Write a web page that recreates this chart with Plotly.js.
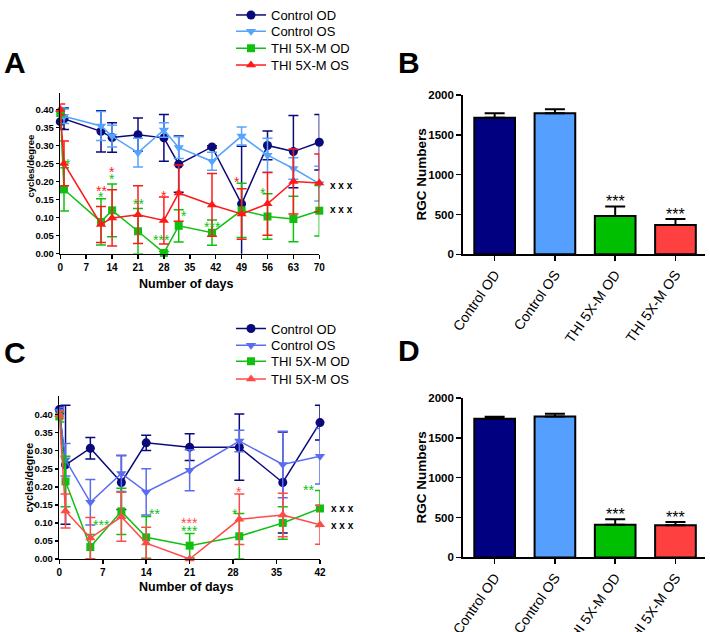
<!DOCTYPE html>
<html><head><meta charset="utf-8">
<script src="https://cdn.plot.ly/plotly-3.0.1.min.js"></script>
<style>html,body{margin:0;padding:0;background:#fff}#chart{width:710px;height:632px}</style>
</head><body><div id="chart"></div>
<script>
// ---------- Panel A data (visual acuity over 70 days) ----------
const daysA = [0, 1, 11, 14, 21, 28, 32, 41, 49, 56, 63, 70];
const ctrlOD_A = [0.366, 0.374, 0.339, 0.322, 0.330, 0.321, 0.248, 0.296, 0.138, 0.300, 0.283, 0.309];
const ctrlOD_A_err = [0.020, 0.030, 0.057, 0.041, 0.046, 0.065, 0.078, 0.003, 0.160, 0.040, 0.100, 0.077];
const ctrlOS_A = [0.390, 0.381, 0.354, 0.326, 0.280, 0.343, 0.294, 0.256, 0.326, 0.273, 0.236, 0.194];
const ctrlOS_A_err = [0.015, 0.020, 0.040, 0.030, 0.040, 0.020, 0.030, 0.025, 0.025, 0.047, 0.030, 0.048];
const thiOD_A = [0.390, 0.178, 0.088, 0.120, 0.062, 0.002, 0.077, 0.058, 0.120, 0.103, 0.096, 0.119];
const thiOD_A_err = [0.010, 0.060, 0.064, 0.073, 0.063, 0.004, 0.045, 0.035, 0.075, 0.063, 0.063, 0.070];
const thiOS_A = [0.400, 0.250, 0.081, 0.099, 0.108, 0.092, 0.168, 0.135, 0.110, 0.138, 0.200, 0.196];
const thiOS_A_err = [0.015, 0.062, 0.050, 0.078, 0.080, 0.065, 0.078, 0.087, 0.070, 0.087, 0.090, 0.080];

// ---------- Panel C data (visual acuity over 42 days) ----------
const daysC = [0, 1, 5, 10, 14, 21, 29, 36, 42];
const ctrlOD_C = [0.414, 0.261, 0.307, 0.212, 0.322, 0.310, 0.310, 0.212, 0.378];
const ctrlOD_C_err = [0.010, 0.165, 0.030, 0.075, 0.021, 0.037, 0.092, 0.140, 0.048];
const ctrlOS_C = [0.410, 0.275, 0.157, 0.237, 0.186, 0.246, 0.327, 0.262, 0.285];
const ctrlOS_C_err = [0.010, 0.045, 0.063, 0.050, 0.064, 0.057, 0.030, 0.092, 0.077];
const thiOD_C = [0.395, 0.215, 0.033, 0.132, 0.060, 0.037, 0.063, 0.100, 0.140];
const thiOD_C_err = [0.015, 0.070, 0.035, 0.064, 0.058, 0.034, 0.063, 0.045, 0.050];
const thiOS_C = [0.400, 0.133, 0.058, 0.117, 0.044, 0.000, 0.110, 0.122, 0.095];
const thiOS_C_err = [0.010, 0.047, 0.057, 0.068, 0.044, 0.000, 0.070, 0.060, 0.054];

// ---------- Panels B and D (RGC numbers) ----------
const groups = ["Control OD", "Control OS", "THI 5X-M OD", "THI 5X-M OS"];
const rgcB = [1715, 1772, 481, 369];
const rgcB_err = [57, 50, 121, 75];
const rgcD = [1739, 1768, 410, 402];
const rgcD_err = [25, 33, 70, 41];

// ---------- Significance marks ----------
const sigA_day = [2, 11, 11, 14, 14, 21, 28, 27.4, 33.4, 41, 47.8, 54.9];
const sigA_val = [0.26, 0.186, 0.167, 0.237, 0.217, 0.148, 0.172, 0.050, 0.115, 0.085, 0.21, 0.18];
const sigA_txt = ["*", "**", "*", "*", "*", "**", "*", "***", "*", "***", "*", "*"];
const sigA_grp = ["g", "r", "g", "r", "g", "g", "r", "g", "g", "g", "r", "g"];
const sigC_day = [6.8, 15.3, 21.05, 21.05, 28.95, 28.3, 40.1];
const sigC_val = [0.105, 0.135, 0.11, 0.09, 0.197, 0.137, 0.201];
const sigC_txt = ["***", "**", "***", "***", "*", "*", "**"];
const sigC_grp = ["g", "g", "r", "g", "r", "g", "g"];
const xxxA_val = [0.189, 0.122];
const xxxC_val = [0.140, 0.094];

// ---------- styles ----------
const NAVY = '#0a0a7a', SKY = '#55a2ff', PERI = '#5b6cf0', GREEN = '#10c010', RED = '#ff1a1a', RED2 = '#ff4a4a';
const BAR_COLORS = ['#000080', '#559fff', '#00bf00', '#ff4040'];
const FONT = 'Liberation Sans, Arial, sans-serif';

function lineTrace(name, x, y, err, color, symbol, size, xa, ya, legend) {
  return {
    type: 'scatter', mode: 'lines+markers', name: name, x: x, y: y,
    xaxis: xa, yaxis: ya, legend: legend, showlegend: true, cliponaxis: false,
    line: { color: color, width: 1.5 },
    marker: { color: color, symbol: symbol, size: size },
    error_y: { type: 'data', array: err, visible: true, color: color, thickness: 1.5, width: 5 }
  };
}
function barTrace(vals, errs, xa, ya) {
  return {
    type: 'bar', x: groups, y: vals, xaxis: xa, yaxis: ya, showlegend: false, width: 0.675,
    marker: { color: BAR_COLORS, line: { color: '#000', width: 2 } },
    error_y: { type: 'data', symmetric: false, array: errs, arrayminus: errs.map(() => 0), color: '#000', thickness: 2, width: 10 }
  };
}

const traces = [
  lineTrace('Control OD', daysA, ctrlOD_A, ctrlOD_A_err, NAVY, 'circle', 9, 'x', 'y', 'legend'),
  lineTrace('Control OS', daysA, ctrlOS_A, ctrlOS_A_err, SKY, 'triangle-down', 9, 'x', 'y', 'legend2'),
  lineTrace('THI 5X-M OD', daysA, thiOD_A, thiOD_A_err, GREEN, 'square', 8, 'x', 'y', 'legend3'),
  lineTrace('THI 5X-M OS', daysA, thiOS_A, thiOS_A_err, RED, 'triangle-up', 9, 'x', 'y', 'legend4'),
  barTrace(rgcB, rgcB_err, 'x2', 'y2'),
  lineTrace('Control OD', daysC, ctrlOD_C, ctrlOD_C_err, NAVY, 'circle', 9, 'x3', 'y3', 'legend5'),
  lineTrace('Control OS', daysC, ctrlOS_C, ctrlOS_C_err, PERI, 'triangle-down', 9, 'x3', 'y3', 'legend6'),
  lineTrace('THI 5X-M OD', daysC, thiOD_C, thiOD_C_err, GREEN, 'square', 8, 'x3', 'y3', 'legend7'),
  lineTrace('THI 5X-M OS', daysC, thiOS_C, thiOS_C_err, RED2, 'triangle-up', 9, 'x3', 'y3', 'legend8'),
  barTrace(rgcD, rgcD_err, 'x4', 'y4')
];

const W = 710, H = 632;
const px = v => v / W, py = v => 1 - v / H;

const lineAxisX = (dom, anchor, range, dtick) => ({
  domain: dom, anchor: anchor, range: range, tick0: 0, dtick: dtick, showgrid: false, zeroline: false,
  showline: true, linecolor: '#000', linewidth: 1.5, ticks: 'outside', ticklen: 4, tickwidth: 1.5, tickcolor: '#000',
  tickfont: { family: FONT, size: 10, color: '#000', weight: 'bold' }, fixedrange: true
});
const lineAxisY = (dom, anchor, range) => ({
  domain: dom, anchor: anchor, range: range, tickvals: [0, 0.05, 0.10, 0.15, 0.20, 0.25, 0.30, 0.35, 0.40],
  tickformat: '.2f', showgrid: false, zeroline: false,
  showline: true, linecolor: '#000', linewidth: 1.5, ticks: 'outside', ticklen: 3, tickwidth: 1.5, tickcolor: '#000',
  tickfont: { family: FONT, size: 9.5, color: '#000', weight: 'bold' }, fixedrange: true
});
const barAxisX = (dom, anchor) => ({
  domain: dom, anchor: anchor, range: [-0.53, 3.49], type: 'category', showgrid: false, zeroline: false,
  showline: true, linecolor: '#000', linewidth: 1.5, ticks: 'outside', ticklen: 5, tickwidth: 1.5, tickcolor: '#000',
  tickangle: -55, tickfont: { family: FONT, size: 14, color: '#000' }, fixedrange: true
});
const barAxisY = (dom, anchor) => ({
  domain: dom, anchor: anchor, range: [0, 2000], tickvals: [0, 500, 1000, 1500, 2000], showgrid: false, zeroline: false,
  showline: true, linecolor: '#000', linewidth: 1.5, ticks: 'outside', ticklen: 5, tickwidth: 1.5, tickcolor: '#000',
  tickfont: { family: FONT, size: 11.5, color: '#000', weight: 'bold' }, fixedrange: true
});

const ann = [];
function ptxt(text, xp, yp, size, isBold, angle) {
  ann.push({ text: text, x: px(xp), y: py(yp), xref: 'paper', yref: 'paper', xanchor: 'center', yanchor: 'middle',
    showarrow: false, textangle: angle || 0,
    font: { family: FONT, size: size, color: '#000', weight: isBold ? 'bold' : 'normal' } });
}
// panel letters
ptxt('A', 15, 57, 30, true);
ptxt('B', 409, 57, 30, true);
ptxt('C', 15, 350, 30, true);
ptxt('D', 409, 348, 30, true);
// axis titles
ptxt('Number of days', 186, 281, 12.5, true);
ptxt('Number of days', 186, 587, 12.5, true);
ptxt('cycles/degree', 30, 162, 9.5, true, -90);
ptxt('cycles/degree', 29, 476, 10.5, true, -90);
ptxt('RGC Numbers', 421, 170, 13.5, true, -90);
ptxt('RGC Numbers', 421, 476, 13.5, true, -90);
// significance stars
function stars(days, vals, texts, grps, xref, yref, redColor) {
  for (let i = 0; i < days.length; i++) {
    ann.push({ text: texts[i], x: days[i], y: vals[i], xref: xref, yref: yref, showarrow: false, yshift: -4,
      xanchor: 'center', yanchor: 'middle',
      font: { family: FONT, size: 14, color: grps[i] === 'r' ? redColor : GREEN } });
  }
}
stars(sigA_day, sigA_val, sigA_txt, sigA_grp, 'x', 'y', RED);
stars(sigC_day, sigC_val, sigC_txt, sigC_grp, 'x3', 'y3', RED2);
xxxA_val.forEach(v => ann.push({ text: 'x x x', x: 70, y: v, xref: 'x', yref: 'y', xanchor: 'left', yanchor: 'middle', xshift: 9, showarrow: false,
  font: { family: FONT, size: 10, color: '#000', weight: 'bold' } }));
xxxC_val.forEach(v => ann.push({ text: 'x x x', x: 42, y: v, xref: 'x3', yref: 'y3', xanchor: 'left', yanchor: 'middle', xshift: 9, showarrow: false,
  font: { family: FONT, size: 10, color: '#000', weight: 'bold' } }));
// bar stars above error bars
[2, 3].forEach(i => {
  ann.push({ text: '***', x: groups[i], y: rgcB[i] + rgcB_err[i], xref: 'x2', yref: 'y2', xanchor: 'center', yanchor: 'bottom', yshift: -6, showarrow: false,
    font: { family: FONT, size: 16, color: '#000' } });
  ann.push({ text: '***', x: groups[i], y: rgcD[i] + rgcD_err[i], xref: 'x4', yref: 'y4', xanchor: 'center', yanchor: 'bottom', yshift: -6, showarrow: false,
    font: { family: FONT, size: 16, color: '#000' } });
});

// one legend per entry so the rows sit at the reference spacing
const legendRows = [12, 29, 46, 63, 329, 346, 362, 380];
const legendOffset = 18.5;
function legendAt(row) {
  return { x: px(231), y: py(row - legendOffset), xanchor: 'left', yanchor: 'top', bgcolor: 'rgba(0,0,0,0)', borderwidth: 0,
    font: { family: FONT, size: 13, color: '#000' }, itemwidth: 30, tracegroupgap: 0 };
}

const layout = {
  width: W, height: H, margin: { l: 0, r: 0, t: 0, b: 0 },
  paper_bgcolor: '#fff', plot_bgcolor: 'rgba(0,0,0,0)',
  font: { family: FONT, color: '#000' },
  xaxis: lineAxisX([px(60.3), px(319.3)], 'y', [0, 70], 7),
  yaxis: lineAxisY([py(250), py(88)], 'x', [0, 0.445]),
  xaxis2: barAxisX([px(462.7), px(705)], 'y2'),
  yaxis2: barAxisY([py(250.7), py(90)], 'x2'),
  xaxis3: lineAxisX([px(59.3), px(320)], 'y3', [0, 42], 7),
  yaxis3: lineAxisY([py(558.3), py(394)], 'x3', [0, 0.451]),
  xaxis4: barAxisX([px(462.7), px(705)], 'y4'),
  yaxis4: barAxisY([py(556.7), py(395.7)], 'x4'),
  annotations: ann,
  showlegend: true
};
legendRows.forEach((r, i) => { layout[i === 0 ? 'legend' : 'legend' + (i + 1)] = legendAt(r); });

Plotly.newPlot('chart', traces, layout, { displayModeBar: false, staticPlot: true });
</script></body></html>
